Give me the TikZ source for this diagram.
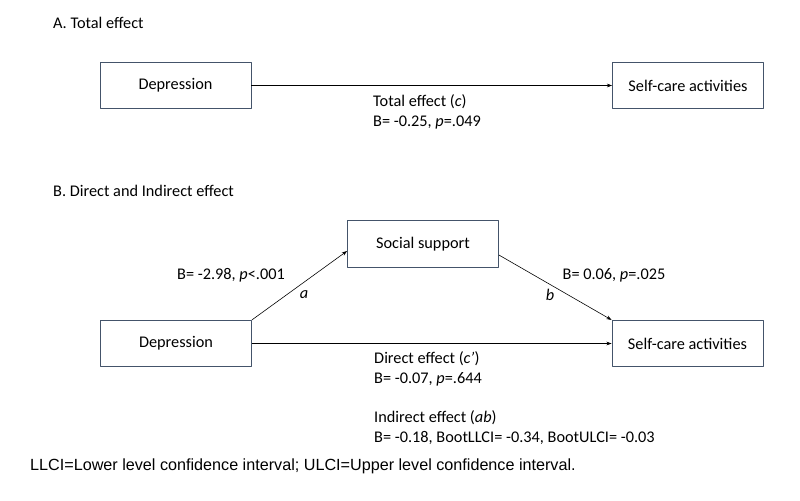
\documentclass[tikz,border=0pt]{standalone}
\usepackage{fontspec}
\setmainfont{Carlito}
\newfontfamily\notefont{Liberation Sans}
\usepackage{xcolor}
\usetikzlibrary{arrows.meta}
\definecolor{boxline}{HTML}{44546A}
\tikzset{fig/.style={line join=round,>={Stealth[length=4.5pt,width=3.2pt]}},
  var/.style={draw=boxline,line width=0.7pt,minimum width=4.53cm,minimum height=1.39cm,inner sep=0pt},
  effect/.style={->,line width=0.5pt},
  lbl/.style={align=left,inner sep=0pt}}

\begin{document}
\begin{tikzpicture}[fig,x=0.03cm,y=-0.03cm,font=\fontsize{13.9}{17}\selectfont]
  \useasboundingbox (0,0) rectangle (800,501);
  % A. total effect
  \node[lbl,anchor=west] (titA) at (53,23) {A. Total effect};
  \node[var] (depA) at (175.5,85.5) {Depression};
  \node[var] (scaA) at (688,85.5) {Self-care activities};
  \draw[effect] (depA) -- (scaA);
  \node[lbl,anchor=west] (totc) at (373,112) {Total effect (\textit{c})\\B= -0.25, \textit{p}=.049};
  % B. direct and indirect effect
  \node[lbl,anchor=west] (titB) at (53,191) {B. Direct and Indirect effect};
  \node[var] (soc) at (423,244) {Social support};
  \node[var] (depB) at (176,343.5) {Depression};
  \node[var] (scaB) at (687.5,343.5) {Self-care activities};
  \draw[effect] (depB.north east) -- ([yshift=-0.21cm]soc.west);
  \draw[effect] ([yshift=-0.33cm]soc.east) -- (scaB.north west);
  \draw[effect] (depB) -- (scaB);
  \node[lbl] (patha) at (231,275) {B= -2.98, \textit{p}<.001};
  \node[lbl] (la) at (304,295) {\textit{a}};
  \node[lbl] (pathb) at (614,275) {B= 0.06, \textit{p}=.025};
  \node[lbl] (lb) at (550,295) {\textit{b}};
  \node[lbl,anchor=west] (dirc) at (374,369) {Direct effect (\textit{c’})\\B= -0.07, \textit{p}=.644};
  \node[lbl,anchor=west] (indab) at (374,428) {Indirect effect (\textit{ab})\\B= -0.18, BootLLCI= -0.34, BootULCI= -0.03};
  \node[lbl,anchor=west,font=\notefont\fontsize{13.8}{16}\selectfont] (note) at (30,466) {LLCI=Lower level confidence interval; ULCI=Upper level confidence interval.};
\end{tikzpicture}
\end{document}
